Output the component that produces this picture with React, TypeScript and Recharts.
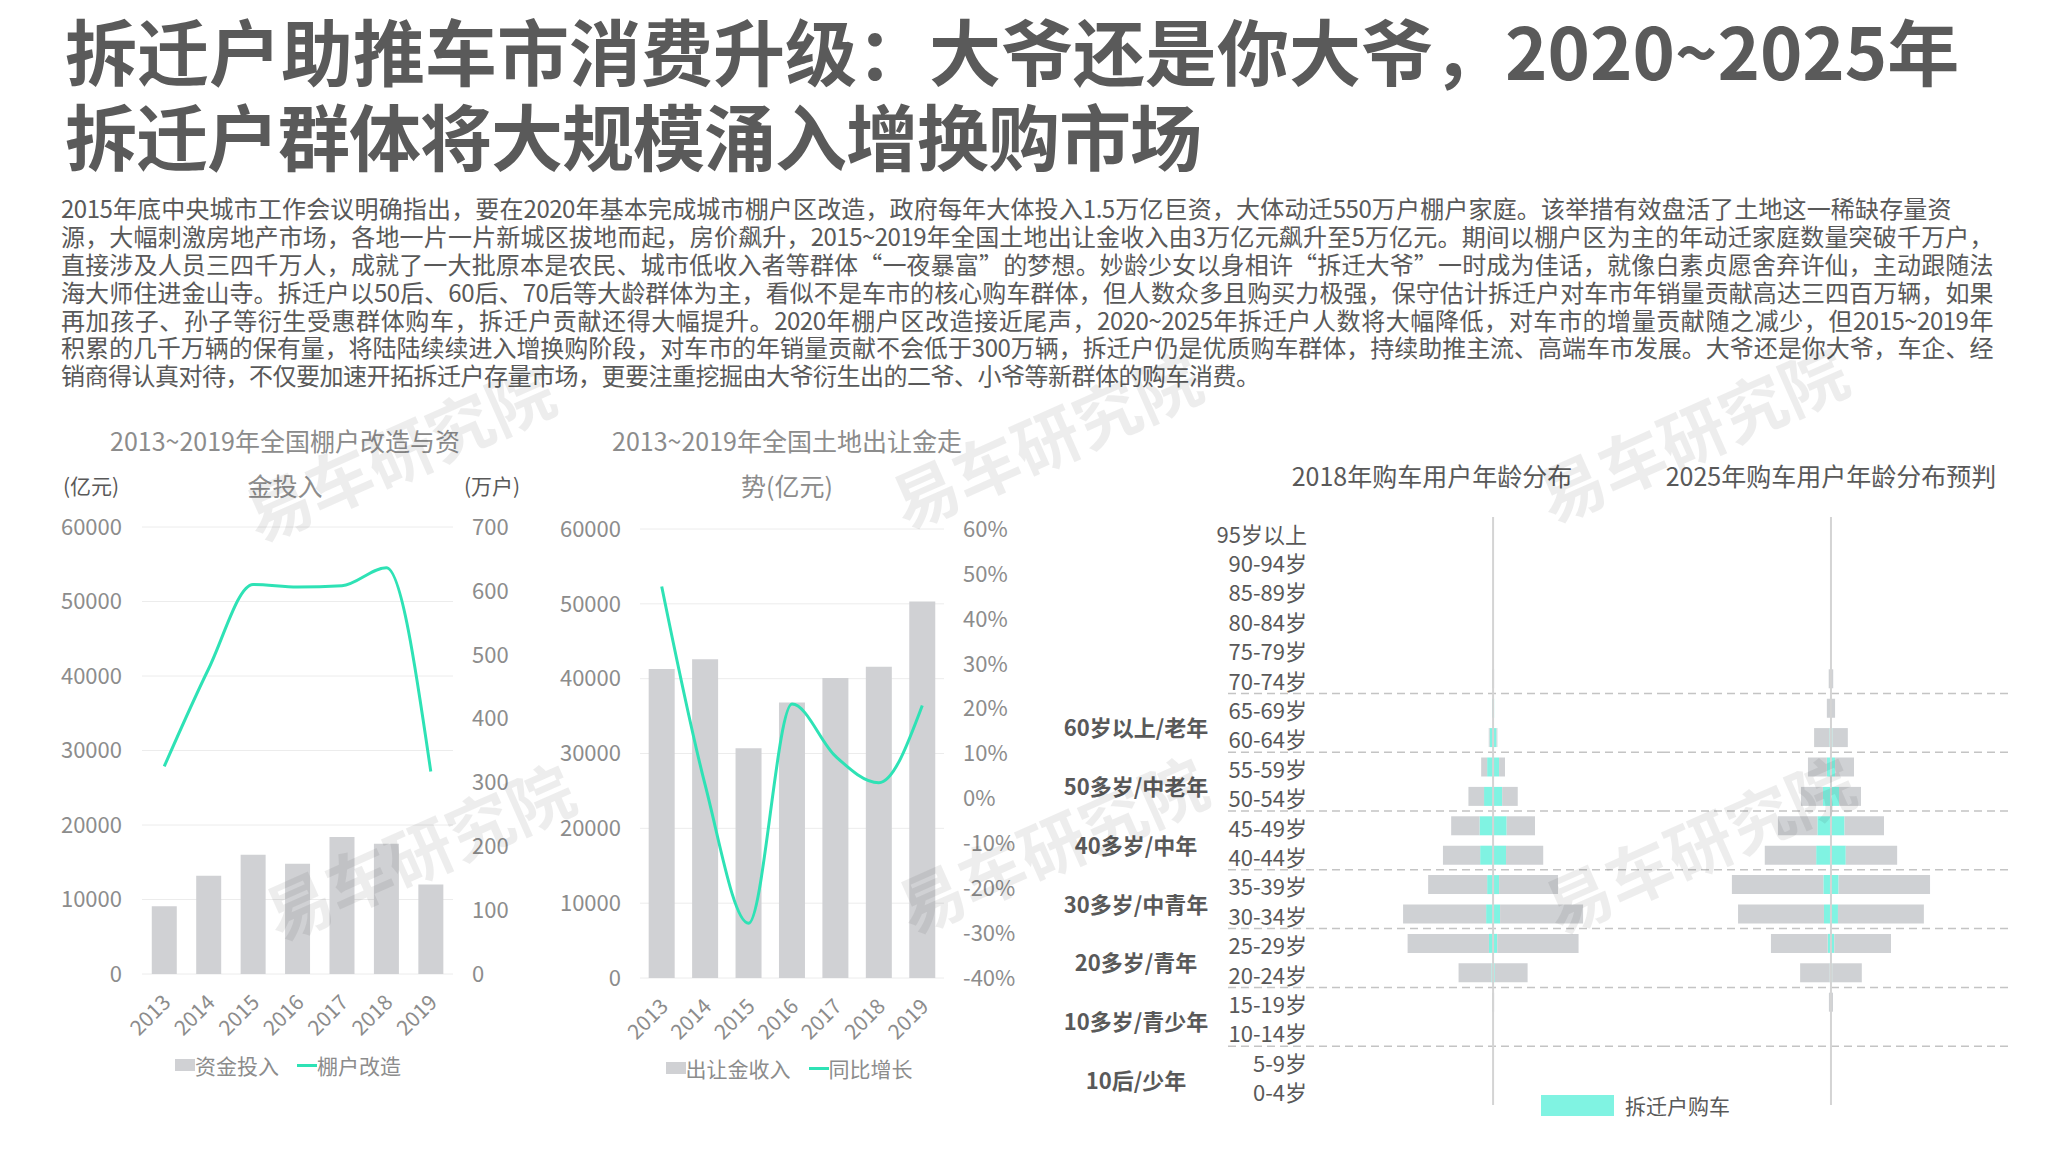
import React from 'react';
import {
  ComposedChart,
  BarChart,
  Bar,
  Line,
  XAxis,
  YAxis,
  CartesianGrid,
  Legend,
  ReferenceLine,
} from 'recharts';

const FONT = '"Noto Sans CJK SC", "Noto Sans", sans-serif';
const DARK = '#595959';
const MID = '#8c8c8c';
const BAR_GRAY = '#d0d1d4';
const LINE_TEAL = '#2ee2b5';
const PYR_TEAL = '#80f3e2';
const PYR_GRAY = '#cfd1d4';
const GRID = '#ececec';

const TITLE_LINES = [
  '拆迁户助推车市消费升级：大爷还是你大爷，2020~2025年',
  '拆迁户群体将大规模涌入增换购市场',
];

const BODY_LINES = [
  '2015年底中央城市工作会议明确指出，要在2020年基本完成城市棚户区改造，政府每年大体投入1.5万亿巨资，大体动迁550万户棚户家庭。该举措有效盘活了土地这一稀缺存量资',
  '源，大幅刺激房地产市场，各地一片一片新城区拔地而起，房价飙升，2015~2019年全国土地出让金收入由3万亿元飙升至5万亿元。期间以棚户区为主的年动迁家庭数量突破千万户，',
  '直接涉及人员三四千万人，成就了一大批原本是农民、城市低收入者等群体“一夜暴富”的梦想。妙龄少女以身相许“拆迁大爷”一时成为佳话，就像白素贞愿舍弃许仙，主动跟随法',
  '海大师住进金山寺。拆迁户以50后、60后、70后等大龄群体为主，看似不是车市的核心购车群体，但人数众多且购买力极强，保守估计拆迁户对车市年销量贡献高达三四百万辆，如果',
  '再加孩子、孙子等衍生受惠群体购车，拆迁户贡献还得大幅提升。2020年棚户区改造接近尾声，2020~2025年拆迁户人数将大幅降低，对车市的增量贡献随之减少，但2015~2019年',
  '积累的几千万辆的保有量，将陆陆续续进入增换购阶段，对车市的年销量贡献不会低于300万辆，拆迁户仍是优质购车群体，持续助推主流、高端车市发展。大爷还是你大爷，车企、经',
  '销商得认真对待，不仅要加速开拓拆迁户存量市场，更要注重挖掘由大爷衍生出的二爷、小爷等新群体的购车消费。',
];

// 2013~2019 棚改
const YEARS = ['2013', '2014', '2015', '2016', '2017', '2018', '2019'];
const SHANTY_FUNDS = [9100, 13200, 16000, 14800, 18400, 17500, 12000]; // 亿元
const SHANTY_HOMES = [325, 478, 610, 606, 608, 636, 317]; // 万户
const FUNDS_TICKS = [0, 10000, 20000, 30000, 40000, 50000, 60000];
const HOMES_TICKS = [0, 100, 200, 300, 400, 500, 600, 700];

// 2013~2019 土地出让金
const LAND_REVENUE = [41300, 42600, 30700, 36800, 40100, 41600, 50300]; // 亿元
const LAND_GROWTH = [0.472, 0.03, -0.278, 0.21, 0.094, 0.035, 0.207];
const GROWTH_TICKS = [-0.4, -0.3, -0.2, -0.1, 0, 0.1, 0.2, 0.3, 0.4, 0.5, 0.6];

// 年龄分布（上到下）
const AGE_GROUPS = [
  '95岁以上', '90-94岁', '85-89岁', '80-84岁', '75-79岁', '70-74岁', '65-69岁',
  '60-64岁', '55-59岁', '50-54岁', '45-49岁', '40-44岁', '35-39岁', '30-34岁',
  '25-29岁', '20-24岁', '15-19岁', '10-14岁', '5-9岁', '0-4岁',
];
const BUYERS_2018 = [0, 0, 0, 0, 0, 0.25, 0.25, 1.05, 2.9, 6.0, 10.2, 12.2, 15.8, 21.9, 20.8, 8.4, 0.25, 0, 0, 0];
const RELOCATED_2018 = [0, 0, 0, 0, 0, 0, 0.25, 0.85, 1.45, 2.2, 3.3, 3.15, 1.45, 1.7, 1.0, 0.4, 0, 0, 0, 0];
const BUYERS_2025 = [0, 0, 0, 0, 0, 0.55, 1.0, 4.1, 5.6, 7.3, 12.9, 16.1, 24.1, 22.6, 14.6, 7.5, 0.5, 0, 0, 0];
const RELOCATED_2025 = [0, 0, 0, 0, 0, 0, 0, 0.35, 1.0, 1.95, 3.3, 3.6, 1.85, 1.7, 0.8, 0.3, 0, 0, 0, 0];
const BOUNDARY_AGES = ['65-69岁', '55-59岁', '45-49岁', '35-39岁', '25-29岁', '15-19岁', '5-9岁'];
const LIFE_STAGES = ['60岁以上/老年', '50多岁/中老年', '40多岁/中年', '30多岁/中青年', '20多岁/青年', '10多岁/青少年', '10后/少年'];

const WATERMARKS = [
  [398, 450], [418, 849], [1045, 437], [1051, 842], [1691, 431], [1698, 842],
];

const shantyData = YEARS.map((year, i) => ({ year, funds: SHANTY_FUNDS[i], homes: SHANTY_HOMES[i] }));
const landData = YEARS.map((year, i) => ({ year, revenue: LAND_REVENUE[i], growth: LAND_GROWTH[i] }));

const buildPyramid = (total: number[], relocated: number[]) =>
  AGE_GROUPS.map((age, i) => ({
    age,
    relocatedLeft: -relocated[i],
    relocatedRight: relocated[i],
    otherLeft: -(total[i] - relocated[i]),
    otherRight: total[i] - relocated[i],
  }));

const axisTick = { fill: MID, fontSize: 22, fontFamily: FONT };

function YearTick({ x, y, payload }: any) {
  const tx = x - 3;
  const ty = y + 19;
  return (
    <text
      x={tx}
      y={ty}
      dy="0.72em"
      textAnchor="end"
      fill={MID}
      fontSize={21}
      fontFamily={FONT}
      transform={`rotate(-45, ${tx}, ${ty})`}
    >
      {payload.value}
    </text>
  );
}

function AgeTick({ x, y, payload }: any) {
  return (
    <text x={x + 79} y={y + 3} dy="0.36em" textAnchor="end" fill={DARK} fontSize={22} fontFamily={FONT}>
      {payload.value}
    </text>
  );
}

function SeriesLegend({ payload }: any) {
  // bars before lines, as in the original legend
  const items = [...(payload ?? [])].sort((a: any, b: any) => (a.type === 'rect' ? 0 : 1) - (b.type === 'rect' ? 0 : 1));
  return (
    <div
      style={{
        display: 'flex',
        justifyContent: 'center',
        alignItems: 'center',
        height: 40,
        fontSize: 21,
        color: MID,
        fontFamily: FONT,
      }}
    >
      {items.map((entry: any, i: number) => (
        <span key={entry.value} style={{ display: 'inline-flex', alignItems: 'center', marginLeft: i ? 18 : 0 }}>
          <span
            style={{
              display: 'inline-block',
              width: 20,
              height: entry.type === 'rect' ? 12 : 3,
              background: entry.color,
            }}
          />
          {entry.value}
        </span>
      ))}
    </div>
  );
}

function ChartTitle({ lines, cx }: { lines: string[]; cx: number }) {
  return (
    <div
      style={{
        position: 'absolute',
        left: cx - 250,
        top: 418,
        width: 500,
        textAlign: 'center',
        fontSize: 25,
        lineHeight: '45px',
        color: MID,
        whiteSpace: 'nowrap',
      }}
    >
      {lines.map((l) => (
        <div key={l}>{l}</div>
      ))}
    </div>
  );
}

function ShantyChart() {
  return (
    <div style={{ position: 'absolute', left: 0, top: 420 }}>
      <ComposedChart
        width={560}
        height={680}
        data={shantyData}
        margin={{ top: 107, right: 0, bottom: 15, left: 0 }}
        barCategoryGap="22%"
      >
        <CartesianGrid vertical={false} stroke={GRID} yAxisId="funds" />
        <XAxis dataKey="year" axisLine={false} tickLine={false} tickSize={0} tickMargin={0} height={71} interval={0} tick={(p: any) => <YearTick {...p} />} />
        <YAxis yAxisId="funds" domain={[0, 60000]} ticks={FUNDS_TICKS} width={142} axisLine={false} tickLine={false} tickSize={0} tickMargin={20} tick={axisTick} />
        <YAxis yAxisId="homes" orientation="right" domain={[0, 700]} ticks={HOMES_TICKS} width={107} axisLine={false} tickLine={false} tickSize={0} tickMargin={19} tick={axisTick} />
        <Legend verticalAlign="bottom" height={40} wrapperStyle={{ paddingLeft: 8 }} content={(p: any) => <SeriesLegend {...p} />} />
        <Bar yAxisId="funds" dataKey="funds" name="资金投入" fill={BAR_GRAY} isAnimationActive={false} />
        <Line yAxisId="homes" dataKey="homes" name="棚户改造" type="monotone" stroke={LINE_TEAL} strokeWidth={3} dot={false} activeDot={false} isAnimationActive={false} />
      </ComposedChart>
    </div>
  );
}

function LandChart() {
  return (
    <div style={{ position: 'absolute', left: 500, top: 420 }}>
      <ComposedChart
        width={560}
        height={683}
        data={landData}
        margin={{ top: 109, right: 0, bottom: 15, left: 0 }}
        barCategoryGap="20%"
      >
        <CartesianGrid vertical={false} stroke={GRID} yAxisId="revenue" />
        <XAxis dataKey="year" axisLine={false} tickLine={false} tickSize={0} tickMargin={0} height={70} interval={0} tick={(p: any) => <YearTick {...p} />} />
        <YAxis yAxisId="revenue" domain={[0, 60000]} ticks={FUNDS_TICKS} width={140} axisLine={false} tickLine={false} tickSize={0} tickMargin={19} tick={axisTick} />
        <YAxis
          yAxisId="growth"
          orientation="right"
          domain={[-0.4, 0.6]}
          ticks={GROWTH_TICKS}
          width={116}
          axisLine={false}
          tickLine={false}
          tickSize={0}
          tickMargin={19}
          tick={axisTick}
          tickFormatter={(v: number) => `${Math.round(v * 100)}%`}
        />
        <Legend verticalAlign="bottom" height={40} wrapperStyle={{ paddingLeft: 9 }} content={(p: any) => <SeriesLegend {...p} />} />
        <Bar yAxisId="revenue" dataKey="revenue" name="出让金收入" fill={BAR_GRAY} isAnimationActive={false} />
        <Line yAxisId="growth" dataKey="growth" name="同比增长" type="monotone" stroke={LINE_TEAL} strokeWidth={3} dot={false} activeDot={false} isAnimationActive={false} />
      </ComposedChart>
    </div>
  );
}

function AgePyramid({
  total,
  relocated,
  domain,
  left,
  width,
  showAges,
}: {
  total: number[];
  relocated: number[];
  domain: [number, number];
  left: number;
  width: number;
  showAges: boolean;
}) {
  const data = buildPyramid(total, relocated);
  return (
    <div style={{ position: 'absolute', left, top: 500 }}>
      <BarChart
        layout="vertical"
        width={width}
        height={605}
        data={data}
        stackOffset="sign"
        barCategoryGap="18%"
        margin={{ top: 17, right: 0, bottom: 0, left: 0 }}
      >
        <XAxis type="number" domain={domain} hide />
        <YAxis
          type="category"
          dataKey="age"
          hide={!showAges}
          width={showAges ? 168 : 0}
          axisLine={false}
          tickLine={false}
          tickSize={0}
          tickMargin={0}
          interval={0}
          tick={(p: any) => <AgeTick {...p} />}
        />
        {BOUNDARY_AGES.map((a) => (
          <ReferenceLine key={a} y={a} position="start" stroke="#c4c4c4" strokeWidth={1.5} strokeDasharray="8 5" />
        ))}
        <Bar dataKey="relocatedLeft" stackId="age" fill={PYR_TEAL} isAnimationActive={false} />
        <Bar dataKey="relocatedRight" stackId="age" fill={PYR_TEAL} isAnimationActive={false} />
        <Bar dataKey="otherLeft" stackId="age" fill={PYR_GRAY} isAnimationActive={false} />
        <Bar dataKey="otherRight" stackId="age" fill={PYR_GRAY} isAnimationActive={false} />
        <ReferenceLine x={0} stroke="#d4d4d4" strokeWidth={2} />
      </BarChart>
    </div>
  );
}

export default function App() {
  return (
    <div
      style={{
        position: 'absolute',
        left: 0,
        top: 0,
        width: 2048,
        height: 1152,
        background: '#fff',
        overflow: 'hidden',
        fontFamily: FONT,
      }}
    >
      <div
        style={{
          position: 'absolute',
          left: 65,
          top: 6,
          fontSize: 72,
          fontWeight: 700,
          lineHeight: '85px',
          color: '#5a5a5a',
          whiteSpace: 'nowrap',
        }}
      >
        {TITLE_LINES.map((l, i) => (
          <div key={l} style={{ letterSpacing: i ? -1 : 0 }}>{l}</div>
        ))}
      </div>

      <div
        style={{
          position: 'absolute',
          left: 61,
          top: 194,
          fontSize: 24,
          lineHeight: '27.9px',
          letterSpacing: -0.5,
          color: DARK,
        }}
      >
        {BODY_LINES.map((l, i) => {
          const last = i === BODY_LINES.length - 1;
          return (
            <div
              key={i}
              style={{
                width: i === 0 ? 1890 : last ? 'auto' : 1932,
                height: 27.9,
                whiteSpace: 'nowrap',
                textAlign: last ? 'left' : 'justify',
                textAlignLast: last ? 'left' : 'justify',
              }}
            >
              {l}
            </div>
          );
        })}
      </div>

      <ChartTitle lines={['2013~2019年全国棚户改造与资', '金投入']} cx={285} />
      <div style={{ position: 'absolute', left: 41, top: 470, width: 100, textAlign: 'center', fontSize: 21, color: DARK }}>(亿元)</div>
      <div style={{ position: 'absolute', left: 442, top: 470, width: 100, textAlign: 'center', fontSize: 21, color: DARK }}>(万户)</div>
      <ShantyChart />

      <ChartTitle lines={['2013~2019年全国土地出让金走', '势(亿元)']} cx={787} />
      <LandChart />

      <div style={{ position: 'absolute', left: 1232, top: 457, width: 400, textAlign: 'center', fontSize: 25, color: DARK, whiteSpace: 'nowrap' }}>
        2018年购车用户年龄分布
      </div>
      <div style={{ position: 'absolute', left: 1631, top: 457, width: 400, textAlign: 'center', fontSize: 25, color: DARK, whiteSpace: 'nowrap' }}>
        2025年购车用户年龄分布预判
      </div>

      {LIFE_STAGES.map((s, k) => (
        <div
          key={s}
          style={{
            position: 'absolute',
            left: 1046,
            top: 532 + 29.4 * (6.5 + 2 * k) + 3 - 15,
            width: 180,
            height: 30,
            lineHeight: '30px',
            textAlign: 'center',
            fontSize: 22,
            fontWeight: 700,
            color: DARK,
            whiteSpace: 'nowrap',
          }}
        >
          {s}
        </div>
      ))}

      <AgePyramid total={BUYERS_2018} relocated={RELOCATED_2018} domain={[-64.5, 41.1]} left={1060} width={602} showAges />
      <AgePyramid total={BUYERS_2025} relocated={RELOCATED_2025} domain={[-41.1, 43.55]} left={1662} width={348} showAges={false} />

      <div style={{ position: 'absolute', left: 1541, top: 1090, display: 'flex', alignItems: 'center', fontSize: 21, color: DARK }}>
        <span style={{ display: 'inline-block', width: 73, height: 21, background: PYR_TEAL, marginRight: 11 }} />
        拆迁户购车
      </div>

      {WATERMARKS.map(([cx, cy]) => (
        <div
          key={`${cx}-${cy}`}
          style={{
            position: 'absolute',
            left: cx - 200,
            top: cy - 45,
            width: 400,
            height: 90,
            lineHeight: '90px',
            textAlign: 'center',
            fontSize: 66,
            fontWeight: 700,
            color: 'rgba(0,0,0,0.07)',
            transform: 'rotate(-24deg)',
            pointerEvents: 'none',
            whiteSpace: 'nowrap',
          }}
        >
          易车研究院
        </div>
      ))}
    </div>
  );
}
